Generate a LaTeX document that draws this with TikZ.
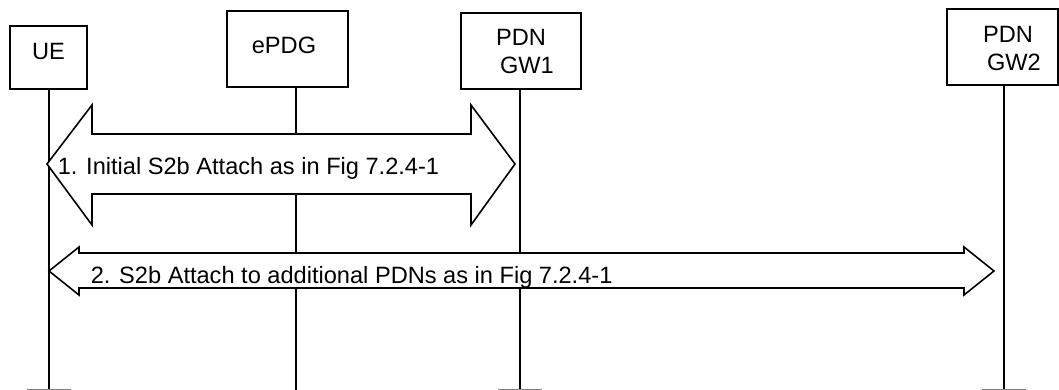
\documentclass[tikz,border=0pt]{standalone}
\usepackage{fontspec}
\setmainfont{Liberation Sans}
\usepackage{tikz}

\begin{document}
\begin{tikzpicture}[x=1pt, y=-1pt, line width=1.6pt,
  box/.style={draw, inner sep=0pt},
  lbl/.style={inner sep=0pt, font=\fontsize{23.6}{28}\selectfont},
  bigarrow/.style={draw, fill=white, line join=miter},
  endtick/.style={line width=1.2pt, gray}]
\useasboundingbox (0,0) rectangle (1059,390);
% entities
\node[box, minimum width=77, minimum height=63] (ue) at (48.5,57.5) {};
\node[box, minimum width=121, minimum height=76] (epdg) at (287.5,49) {};
\node[box, minimum width=120, minimum height=76] (gw1) at (521,51) {};
\node[box, minimum width=111, minimum height=76] (gw2) at (1002.5,47) {};
\node[lbl, anchor=base] (ue-txt) at (48.5,60) {UE};
\node[lbl, anchor=base] (epdg-txt) at (284,54) {ePDG};
\node[lbl, anchor=north, align=center] (gw1-txt) at (521,28.8) {PDN\\\hspace*{0.5em}GW1};
\node[lbl, anchor=north, align=center] (gw2-txt) at (1008,25.8) {PDN\\\hspace*{0.5em}GW2};
% lifelines
\coordinate (ue-end) at (49,390);
\coordinate (epdg-end) at (296,390);
\coordinate (gw1-end) at (520,390);
\coordinate (gw2-end) at (1004,390);
\draw (ue-end |- ue.south) -- (ue-end);
\draw (epdg-end |- epdg.south) -- (epdg-end);
\draw (gw1-end |- gw1.south) -- (gw1-end);
\draw (gw2-end |- gw2.south) -- (gw2-end);
\foreach \e in {ue-end, gw1-end, gw2-end}
  \draw[endtick] ([xshift=-22pt]\e) -- ([xshift=22pt]\e);
% 1. UE <-> PDN GW1
\draw[bigarrow] (47,164) -- (92,105) -- (92,134) -- (471,134) -- (471,105)
  -- (515,164) -- (471,225) -- (471,194) -- (92,194) -- (92,225) -- cycle;
\node[lbl, anchor=base west] (msg1) at (57,175) {1. Initial S2b Attach as in Fig 7.2.4-1};
% 2. UE <-> PDN GW2
\draw[bigarrow] (49,271) -- (79,247) -- (79,253) -- (964,253) -- (964,247)
  -- (994,271) -- (964,295) -- (964,288) -- (79,288) -- (79,295) -- cycle;
\node[lbl, anchor=base west] (msg2) at (90,283) {2. S2b Attach to additional PDNs as in Fig 7.2.4-1};
\end{tikzpicture}
\end{document}
